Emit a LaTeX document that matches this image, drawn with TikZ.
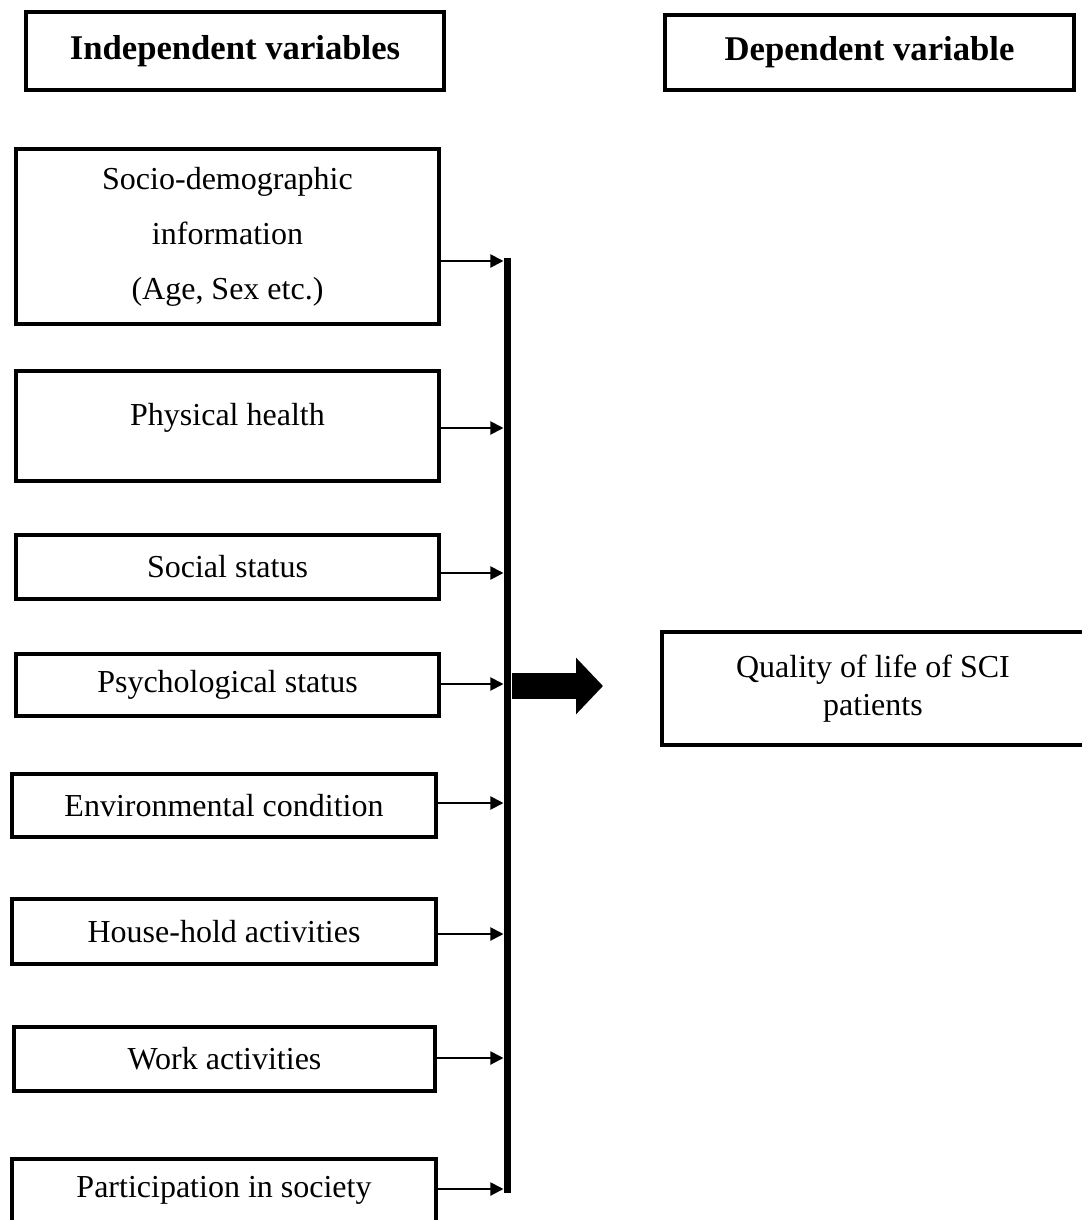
\documentclass[tikz,border=0pt]{standalone}
\usepackage{fontspec}
\setmainfont{Liberation Serif}
\usetikzlibrary{arrows.meta}
\newlength{\pxu}
\setlength{\pxu}{0.375pt}
\begin{document}
\begin{tikzpicture}[x=0.375pt,y=-0.375pt,
  headbox/.style={draw,line width=1.5pt,inner sep=0pt,font=\fontsize{13}{15}\selectfont\bfseries},
  ivbox/.style={draw,line width=1.5pt,inner sep=0pt,align=center,font=\fontsize{12}{14.4}\selectfont},
  feed/.style={line width=0.75pt,-{Triangle[length=4.9pt,width=4.9pt]}},
  bigarrow/.style={line width=10.1pt,-{Triangle[length=10.1pt,width=20.6pt]}}]
\useasboundingbox (0,0) rectangle (1082,1220);

% headings
\node[headbox,minimum width=418*\pxu,minimum height=78*\pxu] (indep) at (235,51) {Independent variables};
\node[headbox,minimum width=409*\pxu,minimum height=75*\pxu] (dep) at (869.5,52.5) {Dependent variable};

% independent variables
\node[ivbox,font=\fontsize{12}{20.6}\selectfont,minimum width=423*\pxu,minimum height=175*\pxu] (socio) at (227.5,236.5) {Socio-demographic\\information\\(Age, Sex etc.)};
\node[ivbox,text depth=9pt,minimum width=423*\pxu,minimum height=110*\pxu] (phys) at (227.5,426) {Physical health};
\node[ivbox,minimum width=423*\pxu,minimum height=64*\pxu] (social) at (227.5,567) {Social status};
\node[ivbox,minimum width=423*\pxu,minimum height=62*\pxu] (psych) at (227.5,685) {Psychological status};
\node[ivbox,minimum width=424*\pxu,minimum height=63*\pxu] (env) at (224,805.5) {Environmental condition};
\node[ivbox,minimum width=424*\pxu,minimum height=65*\pxu] (house) at (224,931.5) {House-hold activities};
\node[ivbox,minimum width=421*\pxu,minimum height=64*\pxu] (work) at (224.5,1059) {Work activities};
\node[ivbox,minimum width=424*\pxu,minimum height=63*\pxu] (part) at (224,1190.5) {Participation in society};

% dependent variable
\node[ivbox,font=\fontsize{12}{14.25}\selectfont,minimum width=422*\pxu,minimum height=113*\pxu] (qol) at (873,688.5) {Quality of life of SCI\\patients};

% collecting bar
\node[fill,inner sep=0pt,minimum width=7*\pxu,minimum height=935*\pxu] (bus) at (507.5,725.5) {};

\foreach \n/\y in {socio/261,phys/428,social/573,psych/684,env/803,house/934,work/1058,part/1189}
{
  \draw[feed] (\n.east |- 0,\y) -- (bus.west |- 0,\y);
}

\coordinate (tip) at (603,686);
\draw[bigarrow] (bus.east |- tip) -- (tip);
\end{tikzpicture}
\end{document}
